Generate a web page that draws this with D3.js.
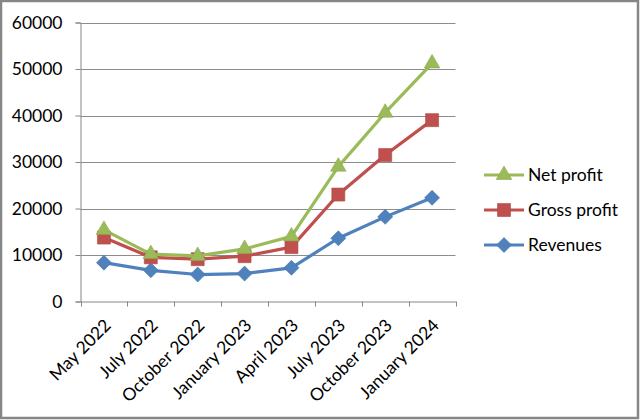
<!DOCTYPE html>
<html><head><meta charset="utf-8">
<script src="https://cdn.jsdelivr.net/npm/d3@7"></script>
<style>body{margin:0;background:#fff}svg{display:block}text{font-family:Lato,"Liberation Sans",sans-serif;fill:#000}</style>
</head><body><svg id="c" width="640" height="420"></svg>
<script>
const categories = ["May 2022","July 2022","October 2022","January 2023","April 2023","July 2023","October 2023","January 2024"];
const revenues    = [8350, 6700, 5800, 6000, 7250, 13600, 18200, 22300];
const grossProfit = [13750, 9500, 9100, 9750, 11700, 23000, 31500, 39000];
const netProfit   = [15400, 10200, 9800, 11300, 14000, 29000, 40600, 51200];
const yTicks = [0, 10000, 20000, 30000, 40000, 50000, 60000];
const seriesNames = ["Net profit","Gross profit","Revenues"];

const series = [
  {name: seriesNames[0], values: netProfit, color: "#9BBB59", marker: "triangle"},
  {name: seriesNames[1], values: grossProfit, color: "#C0504D", marker: "square"},
  {name: seriesNames[2], values: revenues, color: "#4F81BD", marker: "diamond"}
];

const FS = "17.5px";
const svg = d3.select("#c");
svg.append("rect").attr("x",0).attr("y",0).attr("width",640).attr("height",420).attr("fill","#fff");

const x = d3.scaleBand().domain(categories).range([80.5, 455.5]);
const y = d3.scaleLinear().domain([0, 60000]).range([301.5, 22.5]);

// gridlines
svg.append("g").selectAll("line").data(yTicks.slice(1)).join("line")
  .attr("x1", 80.5).attr("x2", 455.5)
  .attr("y1", d => Math.round(y(d)) + 0.5).attr("y2", d => Math.round(y(d)) + 0.5)
  .attr("stroke", "#8C8C8C").attr("stroke-width", 1);

// y axis
const yAxis = svg.append("g").attr("transform", "translate(80.5,0)")
  .call(d3.axisLeft(y).tickValues(yTicks).tickFormat(d3.format("d")).tickSizeOuter(0).tickSize(5).tickPadding(13));
yAxis.select(".domain").attr("stroke", "#868686");
yAxis.selectAll(".tick line").attr("stroke", "#868686");
yAxis.selectAll("text").style("font-size", FS).style("font-family", "Lato").attr("fill","#000");

// x axis
const xAxis = svg.append("g").attr("transform", "translate(0,301.5)")
  .call(d3.axisBottom(x).tickSize(0).tickSizeOuter(0).tickFormat(""));
xAxis.select(".domain").attr("stroke", "#868686");
xAxis.selectAll(".tick").remove();
const edges = categories.map(c => x(c)).concat([x.range()[1]]);
xAxis.append("g").selectAll("line").data(edges).join("line")
  .attr("x1", d => Math.round(d) + 0.5).attr("x2", d => Math.round(d) + 0.5)
  .attr("y1", 0).attr("y2", 5).attr("stroke", "#868686");
xAxis.append("g").selectAll("text").data(categories).join("text")
  .attr("text-anchor", "end")
  .attr("transform", d => `translate(${x(d) + x.bandwidth()/2 + 8},${25}) rotate(-45)`)
  .style("font-size", FS)
  .text(d => d);

const line = d3.line().x((d,i) => x(categories[i]) + x.bandwidth()/2).y(d => y(d));

function markerPath(type) {
  if (type === "triangle") return d3.symbol(d3.symbolTriangle, 105)();
  if (type === "square") return "M-6.5,-6.5H6.5V6.5H-6.5Z";
  return "M0,-7.5L7.5,0L0,7.5L-7.5,0Z";
}

[...series].reverse().forEach(s => {
  const g = svg.append("g");
  g.append("path").datum(s.values).attr("d", line)
    .attr("fill", "none").attr("stroke", s.color).attr("stroke-width", 3.2).attr("stroke-linejoin", "round");
  g.selectAll("path.m").data(s.values).join("path").attr("class","m")
    .attr("transform", (d,i) => `translate(${x(categories[i]) + x.bandwidth()/2},${y(d)})`)
    .attr("d", markerPath(s.marker)).attr("fill", s.color)
    .attr("stroke", d3.color(s.color).darker(0.3)).attr("stroke-width", 0.6);
});

// legend
const legYs = [175, 210, 245];
const leg = svg.append("g");
series.forEach((s, i) => {
  const gy = legYs[i];
  leg.append("line").attr("x1", 484).attr("x2", 524).attr("y1", gy).attr("y2", gy)
    .attr("stroke", s.color).attr("stroke-width", 3.2);
  leg.append("path").attr("transform", `translate(504,${gy})`).attr("d", markerPath(s.marker))
    .attr("fill", s.color).attr("stroke", d3.color(s.color).darker(0.3)).attr("stroke-width", 0.6);
  leg.append("text").attr("x", 528).attr("y", gy).attr("dy", "0.35em")
    .style("font-size", FS).text(s.name);
});

// chart border
svg.append("rect").attr("x", 1).attr("y", 1).attr("width", 637).attr("height", 417)
  .attr("fill", "none").attr("stroke", "#868686").attr("stroke-width", 2.5);
</script></body></html>
